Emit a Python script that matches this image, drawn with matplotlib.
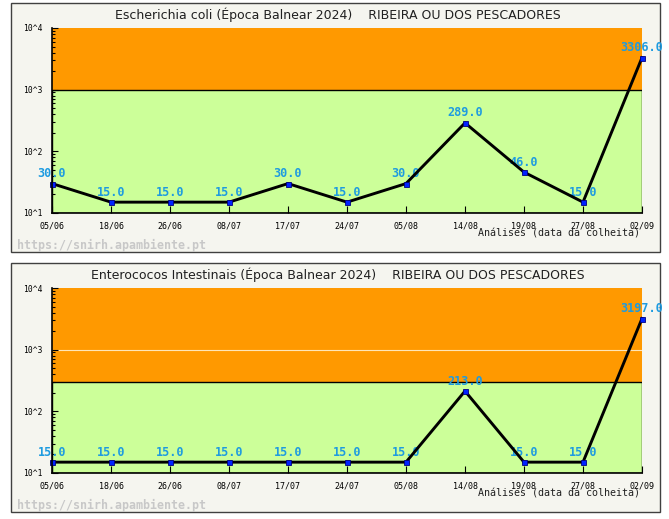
import matplotlib
matplotlib.use("Agg")
import matplotlib.pyplot as plt
from matplotlib.patches import Rectangle

# dados
datas = ["05/06", "18/06", "26/06", "08/07", "17/07", "24/07",
         "05/08", "14/08", "19/08", "27/08", "02/09"]
ecoli = [30, 15, 15, 15, 30, 15, 30, 289, 46, 15, 3306]
enterococos = [15, 15, 15, 15, 15, 15, 15, 213, 15, 15, 3197]
limite_ecoli = 1000
limite_entero = 300
titulos = ["Escherichia coli (Época Balnear 2024)    RIBEIRA OU DOS PESCADORES",
           "Enterococos Intestinais (Época Balnear 2024)    RIBEIRA OU DOS PESCADORES"]

W, H = 669, 519
fig = plt.figure(figsize=(W / 100, H / 100), dpi=100)
fig.patch.set_facecolor("white")

mono = "DejaVu Sans Mono"


def fx(px):
    return px / W


def fy(py):
    return 1 - py / H


paineis = [(ecoli, limite_ecoli, titulos[0], 0), (enterococos, limite_entero, titulos[1], 260)]

for valores, limite, titulo, dy in paineis:
    # caixa do painel
    fig.patches.append(Rectangle((fx(11), fy(252 + dy)), fx(649), (249) / H,
                                 transform=fig.transFigure, facecolor="#f5f5ef",
                                 edgecolor="#404040", linewidth=1, zorder=-5))
    fig.text(fx(338), fy(15 + dy), titulo, ha="center", va="center",
             fontsize=9, color="#202020", family="DejaVu Sans")
    fig.text(fx(17), fy(245 + dy), "https://snirh.apambiente.pt", ha="left", va="center",
             fontsize=8.4, fontweight="bold", color="#c8c8c8", family=mono)
    fig.text(fx(640), fy(234 + dy), "Análises (data da colheita)", ha="right", va="center",
             fontsize=7.2, color="#202020", family=mono)

    ax = fig.add_axes([fx(52), fy(213 + dy), fx(590), 185 / H])
    ax.set_yscale("log")
    ax.set_ylim(10, 10000)
    ax.set_xlim(0, len(datas) - 1)
    ax.set_facecolor("none")

    ax.axhspan(limite, 10000, facecolor="#ff9900", edgecolor="none", zorder=0)
    ax.axhspan(10, limite, facecolor="#ccff99", edgecolor="black", linewidth=1, zorder=0.5)
    if limite < 1000:
        ax.axhline(1000, color="#ffe6b8", linewidth=0.8, zorder=0.6)

    x = list(range(len(datas)))
    ax.plot(x, valores, color="black", linewidth=2.1, zorder=3, clip_on=False)
    ax.plot(x, valores, linestyle="none", marker="s", markersize=3.6,
            markerfacecolor="#0022ff", markeredgecolor="#000080", markeredgewidth=0.6,
            zorder=4, clip_on=False)
    for xi, v in zip(x, valores):
        ax.annotate("%.1f" % v, (xi, v), xytext=(0, 7.2), textcoords="offset points",
                    ha="center", va="center", fontsize=8.5, fontweight="bold",
                    color="#1e9be0", family=mono, zorder=2, annotation_clip=False)

    ax.set_xticks(x)
    ax.set_xticklabels(datas, family=mono, fontsize=6)
    ax.set_yticks([10, 100, 1000, 10000])
    ax.set_yticklabels(["10^1", "10^2", "10^3", "10^4"], family=mono, fontsize=5.8)
    ax.tick_params(axis="x", direction="in", length=5, width=0.8, pad=6, colors="black")
    ax.tick_params(axis="y", which="major", direction="in", length=4.3, width=0.8, pad=6.5)
    ax.tick_params(axis="y", which="minor", direction="in", length=2.3, width=0.8)
    for s in ["top", "right"]:
        ax.spines[s].set_visible(False)
    for s in ["left", "bottom"]:
        ax.spines[s].set_linewidth(1.2)
        ax.spines[s].set_zorder(5)

fig.savefig("out.png", dpi=100)
